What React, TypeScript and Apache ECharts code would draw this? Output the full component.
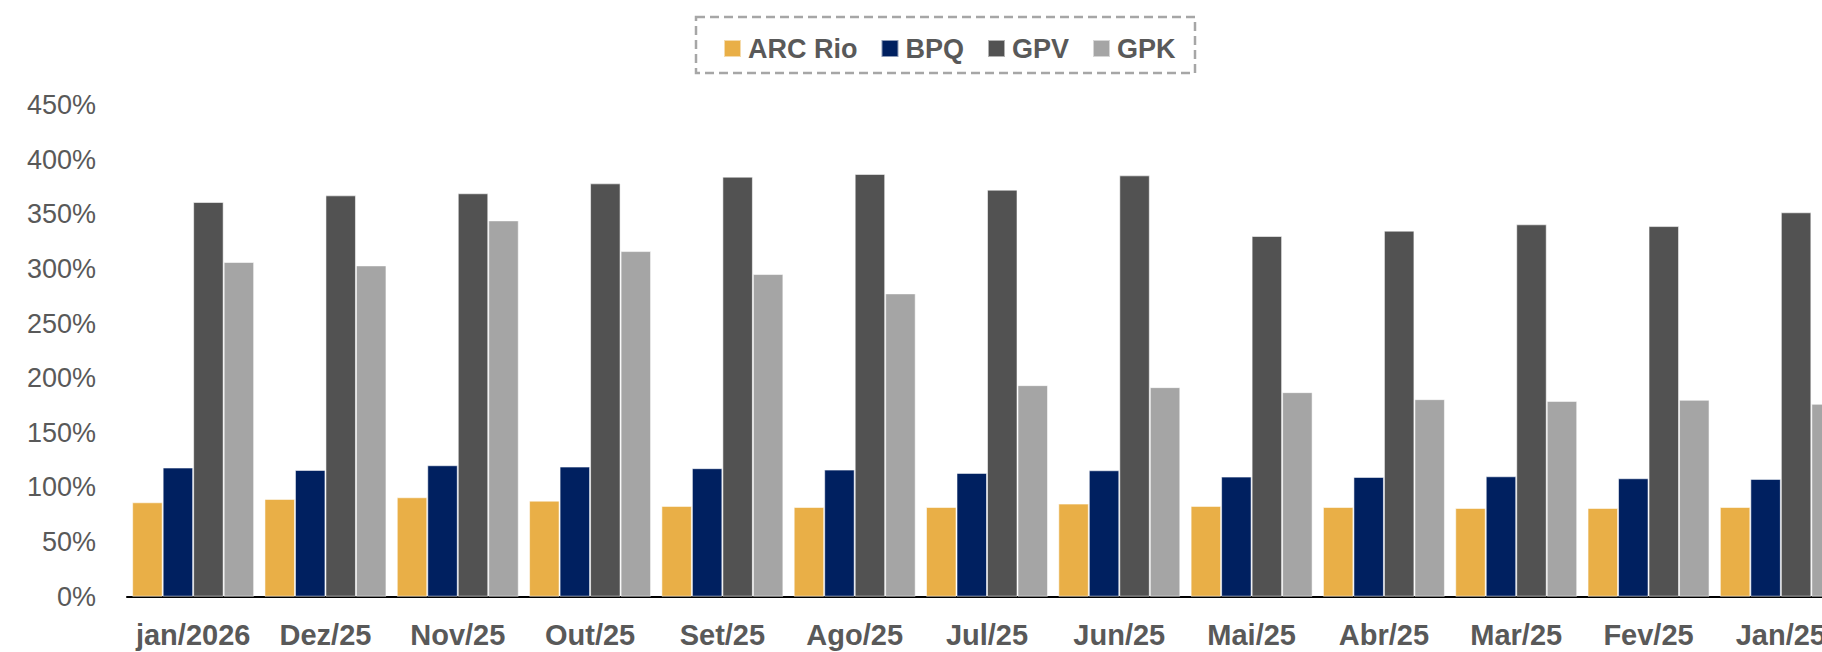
import React, { useEffect, useRef } from "react";
import * as echarts from "echarts";

const categories = ["jan/2026", "Dez/25", "Nov/25", "Out/25", "Set/25", "Ago/25", "Jul/25", "Jun/25", "Mai/25", "Abr/25", "Mar/25", "Fev/25", "Jan/25"];
const arcRio = [86.4, 89.5, 91.0, 87.9, 83.1, 82.1, 82.1, 85.2, 83.1, 82.1, 81.2, 81.2, 82.1];
const bpq = [118.2, 116.0, 120.3, 119.1, 117.6, 116.3, 113.3, 115.7, 109.9, 109.6, 110.2, 108.4, 107.8];
const gpv = [361.2, 367.3, 369.2, 378.3, 384.4, 386.9, 372.5, 385.6, 330.1, 335.0, 340.8, 339.2, 351.8];
const gpk = [306.3, 303.2, 344.4, 316.3, 295.3, 277.6, 193.6, 191.8, 187.2, 180.8, 179.2, 180.2, 176.5];

const seriesNames = ["ARC Rio", "BPQ", "GPV", "GPK"];
const seriesColors = ["#E9AF47", "#002060", "#525252", "#A5A5A5"];

const FONT = "'Liberation Sans', Arial, sans-serif";

export default function App() {
  const ref = useRef<HTMLDivElement>(null);

  useEffect(() => {
    if (!ref.current) return;
    const chart = echarts.init(ref.current, undefined, { renderer: "svg" });
    const dataSets = [arcRio, bpq, gpv, gpk];
    chart.setOption({
      animation: false,
      backgroundColor: "#ffffff",
      textStyle: { fontFamily: FONT },
      graphic: [
        {
          type: "rect",
          shape: { x: 696, y: 17, width: 499, height: 56 },
          style: { fill: "none", stroke: "#A6A6A6", lineWidth: 2.5, lineDash: [9, 5] },
          silent: true,
        },
      ],
      legend: {
        left: 723,
        top: 35,
        padding: 0,
        icon: "rect",
        itemWidth: 17,
        itemHeight: 17,
        itemGap: 23,
        data: seriesNames,
        textStyle: {
          fontFamily: FONT,
          fontSize: 27,
          fontWeight: "bold",
          color: "#595959",
          lineHeight: 20,
          padding: [0, 0, 0, 2],
        },
      },
      grid: { left: 127, right: 53, top: 105, bottom: 55.3, containLabel: false },
      xAxis: {
        type: "category",
        data: categories,
        axisLine: { show: true, lineStyle: { color: "#000000", width: 2 } },
        axisTick: { show: false },
        axisLabel: {
          fontFamily: FONT,
          fontSize: 29,
          fontWeight: "bold",
          color: "#595959",
          margin: 24,
          interval: 0,
        },
        splitLine: { show: false },
      },
      yAxis: {
        type: "value",
        min: 0,
        max: 450,
        interval: 50,
        axisLine: { show: false },
        axisTick: { show: false },
        splitLine: { show: false },
        axisLabel: {
          fontFamily: FONT,
          fontSize: 27,
          color: "#595959",
          margin: 31,
          formatter: "{value}%",
        },
      },
      series: seriesNames.map((name, i) => ({
        name,
        type: "bar",
        data: dataSets[i],
        barGap: "0%",
        barCategoryGap: "7.8%",
        itemStyle: {
          color: seriesColors[i],
          borderColor: "rgba(255,255,255,0.55)",
          borderWidth: 1,
        },
      })),
    });
    return () => chart.dispose();
  }, []);

  return (
    <div
      style={{
        position: "fixed",
        left: 0,
        top: 0,
        width: "1822px",
        height: "652px",
        overflow: "hidden",
        background: "#ffffff",
      }}
    >
      <div ref={ref} style={{ width: "1900px", height: "652px" }} />
    </div>
  );
}
